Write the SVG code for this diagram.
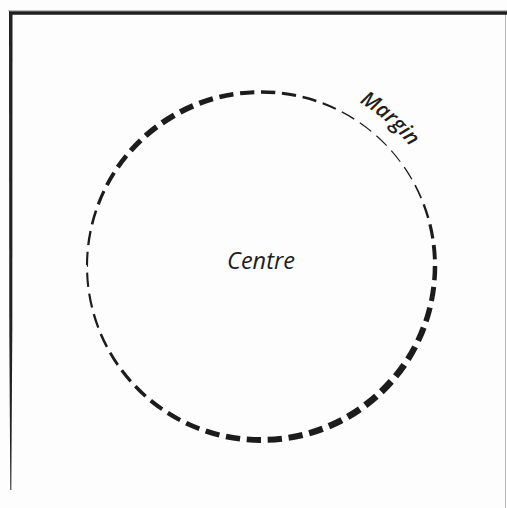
<svg xmlns="http://www.w3.org/2000/svg" xmlns:xlink="http://www.w3.org/1999/xlink" width="507" height="508" viewBox="0 0 507 508">
<style>
.lbl{font-family:"Open Sans","Liberation Sans",sans-serif;font-style:italic;fill:#1e1e1e}
.ring use{stroke-dasharray:0.68 51.32}
</style>
<defs>
<circle id="c" cx="261" cy="266" r="174" pathLength="52" fill="none" stroke="#1c1c1c"/>
<path id="arc" d="M 261,75 A 191 191 0 0 1 452,266" fill="none"/>
</defs>
<rect width="507" height="508" fill="#fdfdfd"/>
<g id="frame">
<line x1="8" y1="10.5" x2="507" y2="10.5" stroke="#bbb" stroke-width="1"/>
<line x1="9" y1="13" x2="507" y2="13" stroke="#1e1e1e" stroke-width="3.6"/>
<path d="M9,11 L12.5,14 L12.3,330 L11.3,490 L10.3,490 L9.3,330 Z" fill="#222"/>
<line x1="505.5" y1="15" x2="505.5" y2="508" stroke="#b5b5b5" stroke-width="1"/>
</g>
<g id="margin-ring" class="ring">
<use xlink:href="#c" stroke-width="4.5" stroke-dashoffset="0"/>
<use xlink:href="#c" stroke-width="5.0" stroke-dashoffset="-1"/>
<use xlink:href="#c" stroke-width="5.5" stroke-dashoffset="-2"/>
<use xlink:href="#c" stroke-width="6.0" stroke-dashoffset="-3"/>
<use xlink:href="#c" stroke-width="6.3" stroke-dashoffset="-4"/>
<use xlink:href="#c" stroke-width="6.6" stroke-dashoffset="-5"/>
<use xlink:href="#c" stroke-width="6.8" stroke-dashoffset="-6"/>
<use xlink:href="#c" stroke-width="6.8" stroke-dashoffset="-7"/>
<use xlink:href="#c" stroke-width="6.6" stroke-dashoffset="-8"/>
<use xlink:href="#c" stroke-width="6.5" stroke-dashoffset="-9"/>
<use xlink:href="#c" stroke-width="6.3" stroke-dashoffset="-10"/>
<use xlink:href="#c" stroke-width="6.2" stroke-dashoffset="-11"/>
<use xlink:href="#c" stroke-width="6.0" stroke-dashoffset="-12"/>
<use xlink:href="#c" stroke-width="5.8" stroke-dashoffset="-13"/>
<use xlink:href="#c" stroke-width="5.5" stroke-dashoffset="-14"/>
<use xlink:href="#c" stroke-width="5.2" stroke-dashoffset="-15"/>
<use xlink:href="#c" stroke-width="4.8" stroke-dashoffset="-16"/>
<use xlink:href="#c" stroke-width="4.4" stroke-dashoffset="-17"/>
<use xlink:href="#c" stroke-width="4.0" stroke-dashoffset="-18"/>
<use xlink:href="#c" stroke-width="3.6" stroke-dashoffset="-19"/>
<use xlink:href="#c" stroke-width="3.2" stroke-dashoffset="-20"/>
<use xlink:href="#c" stroke-width="2.8" stroke-dashoffset="-21"/>
<use xlink:href="#c" stroke-width="2.5" stroke-dashoffset="-22"/>
<use xlink:href="#c" stroke-width="2.3" stroke-dashoffset="-23"/>
<use xlink:href="#c" stroke-width="2.2" stroke-dashoffset="-24"/>
<use xlink:href="#c" stroke-width="2.1" stroke-dashoffset="-25"/>
<use xlink:href="#c" stroke-width="2.1" stroke-dashoffset="-26"/>
<use xlink:href="#c" stroke-width="2.3" stroke-dashoffset="-27"/>
<use xlink:href="#c" stroke-width="2.6" stroke-dashoffset="-28"/>
<use xlink:href="#c" stroke-width="3.2" stroke-dashoffset="-29"/>
<use xlink:href="#c" stroke-width="3.9" stroke-dashoffset="-30"/>
<use xlink:href="#c" stroke-width="4.6" stroke-dashoffset="-31"/>
<use xlink:href="#c" stroke-width="5.2" stroke-dashoffset="-32"/>
<use xlink:href="#c" stroke-width="5.6" stroke-dashoffset="-33"/>
<use xlink:href="#c" stroke-width="5.8" stroke-dashoffset="-34"/>
<use xlink:href="#c" stroke-width="5.6" stroke-dashoffset="-35"/>
<use xlink:href="#c" stroke-width="5.2" stroke-dashoffset="-36"/>
<use xlink:href="#c" stroke-width="4.6" stroke-dashoffset="-37"/>
<use xlink:href="#c" stroke-width="4.0" stroke-dashoffset="-38"/>
<use xlink:href="#c" stroke-width="3.5" stroke-dashoffset="-39"/>
<use xlink:href="#c" stroke-width="3.0" stroke-dashoffset="-40"/>
<use xlink:href="#c" stroke-width="2.5" stroke-dashoffset="-41"/>
<use xlink:href="#c" stroke-width="2.0" stroke-dashoffset="-42"/>
<use xlink:href="#c" stroke-width="1.5" stroke-dashoffset="-43"/>
<use xlink:href="#c" stroke-width="1.2" stroke-dashoffset="-44"/>
<use xlink:href="#c" stroke-width="1.1" stroke-dashoffset="-45"/>
<use xlink:href="#c" stroke-width="1.1" stroke-dashoffset="-46"/>
<use xlink:href="#c" stroke-width="1.3" stroke-dashoffset="-47"/>
<use xlink:href="#c" stroke-width="1.7" stroke-dashoffset="-48"/>
<use xlink:href="#c" stroke-width="2.4" stroke-dashoffset="-49"/>
<use xlink:href="#c" stroke-width="3.2" stroke-dashoffset="-50"/>
<use xlink:href="#c" stroke-width="3.9" stroke-dashoffset="-51"/>
</g>
<g id="margin-label">
<text class="lbl" font-size="21" font-weight="600"><textPath xlink:href="#arc" startOffset="137" text-anchor="middle">Margin</textPath></text>
</g>
<g id="centre">
<text class="lbl" x="261" y="269" font-size="23.5" text-anchor="middle">Centre</text>
</g>
</svg>
